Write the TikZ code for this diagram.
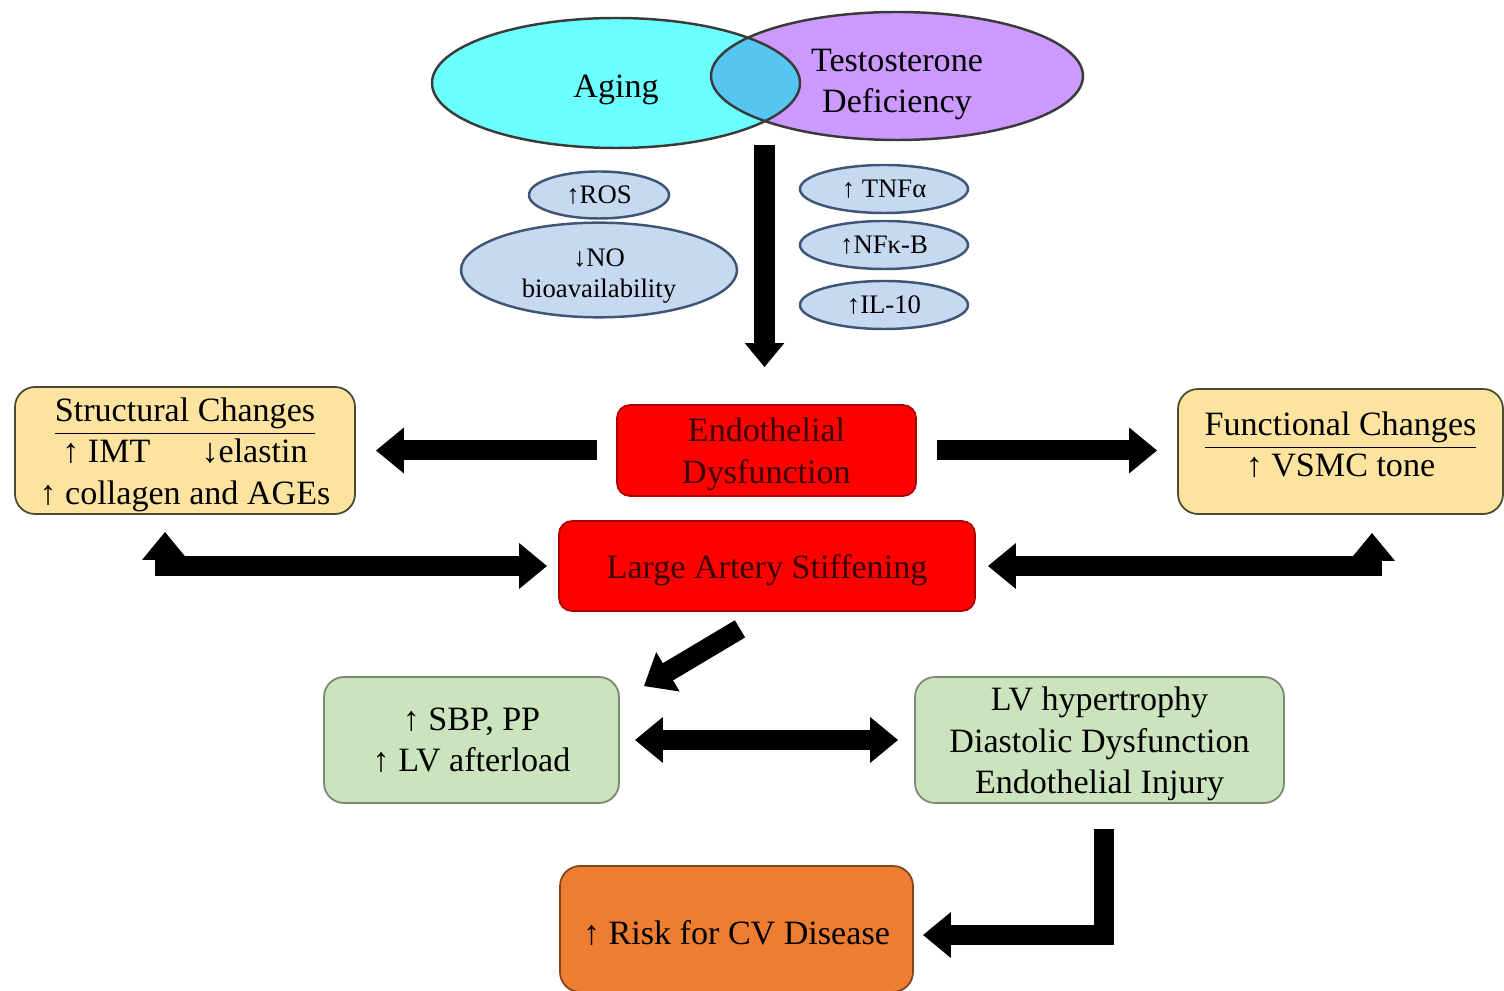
\documentclass[tikz,border=0pt]{standalone}
\usepackage{fontspec}
\setmainfont{Liberation Serif}
\usetikzlibrary{arrows.meta,shapes.geometric}

\definecolor{agecyan}{HTML}{6CFFFF}
\definecolor{tdlav}{HTML}{CC99FF}
\definecolor{vennmix}{HTML}{55C6F2}
\definecolor{venline}{HTML}{3A3A3A}
\definecolor{medfill}{HTML}{C6D9F1}
\definecolor{medline}{HTML}{3F5575}
\definecolor{redfill}{HTML}{FF0000}
\definecolor{redline}{HTML}{B00000}
\definecolor{redtext}{HTML}{3A0000}
\definecolor{goldfill}{HTML}{FCE4A0}
\definecolor{greenfill}{HTML}{CBE4BD}
\definecolor{orangefill}{HTML}{ED7D31}
\definecolor{boxline}{HTML}{4A4A30}

% tall zero-width strut for the first line of a label
\newcommand{\firstline}{\rule{0pt}{9pt}}

\tikzset{
  txt/.style={font=\fontsize{9.7pt}{11.8pt}\selectfont, align=center, text=black,
    execute at begin node={\firstline}},
  smalltxt/.style={font=\fontsize{7.6pt}{8.9pt}\selectfont, align=center, text=black},
  venn/.style={ellipse, txt, inner sep=0pt},
  medellipse/.style={ellipse, smalltxt, fill=medfill, draw=medline, line width=0.7pt, inner sep=0pt},
  box/.style={txt, draw=boxline, line width=0.5pt, rounded corners=0.2cm, inner sep=0pt},
  redbox/.style={box, fill=redfill, draw=redline, text=redtext, rounded corners=0.13cm},
  goldbox/.style={box, fill=goldfill},
  greenbox/.style={box, fill=greenfill, draw=greenfill!60!black},
  orangebox/.style={box, fill=orangefill, draw=orangefill!55!black},
  bigarrow/.style={line width=0.2cm, -{Triangle[length=0.28cm,width=0.44cm]}},
  twoway/.style={line width=0.2cm, {Triangle[length=0.28cm,width=0.44cm]}-{Triangle[length=0.28cm,width=0.44cm]}},
  elbow/.style={line join=miter}
}

\begin{document}
\begin{tikzpicture}
\useasboundingbox (0,0) rectangle (15.04,-9.91);

% ---- Venn of the two causes ----
\node[venn, fill=agecyan, minimum width=3.68cm, minimum height=1.30cm] (aging) at (6.16,-0.83) {};
\node[venn, fill=tdlav, minimum width=3.72cm, minimum height=1.28cm] (td) at (8.97,-0.76) {};
\begin{scope}
  \clip (aging.center) ellipse [x radius=1.84cm, y radius=0.65cm];
  \fill[vennmix] (td.center) ellipse [x radius=1.86cm, y radius=0.64cm];
\end{scope}
\draw[venline, line width=0.7pt] (aging.center) ellipse [x radius=1.84cm, y radius=0.65cm];
\draw[venline, line width=0.7pt] (td.center) ellipse [x radius=1.86cm, y radius=0.64cm];
\node[txt] at (6.16,-0.85) {Aging};
\node[txt] at (8.97,-0.80) {\firstline Testosterone\\Deficiency};

% ---- mediators ----
\node[medellipse, minimum width=1.40cm, minimum height=0.47cm] (ros) at (5.99,-1.95) {↑ROS};
\node[medellipse, minimum width=2.76cm, minimum height=0.70cm] (no) at (5.99,-2.70) {\rule{0pt}{8.5pt}↓NO\\bioavailability};
\node[medellipse, minimum width=1.68cm, minimum height=0.48cm] (tnf) at (8.84,-1.89) {↑ TNFα};
\node[medellipse, minimum width=1.68cm, minimum height=0.48cm] (nfkb) at (8.84,-2.45) {↑NFκ-B};
\node[medellipse, minimum width=1.68cm, minimum height=0.48cm] (il) at (8.84,-3.05) {↑IL-10};

% ---- central boxes ----
\node[redbox, minimum width=2.99cm, minimum height=0.91cm] (ed) at (7.665,-4.505) {\firstline Endothelial\\Dysfunction};
\node[redbox, minimum width=4.16cm, minimum height=0.90cm] (las) at (7.67,-5.66) {Large Artery Stiffening};

% ---- structural / functional changes ----
\node[goldbox, minimum width=3.40cm, minimum height=1.27cm] (sc) at (1.85,-4.505)
  {\firstline\underline{Structural Changes}\\↑ IMT\hspace{1.5em}↓elastin\\↑ collagen and AGEs};
\node[goldbox, minimum width=3.25cm, minimum height=1.25cm] (fc) at (13.405,-4.515)
  {\firstline\underline{Functional Changes}\\↑ VSMC tone\\[-5.4pt]};

% ---- haemodynamic consequences ----
\node[greenbox, minimum width=2.95cm, minimum height=1.26cm] (sbp) at (4.715,-7.40) {↑ SBP, PP\\↑ LV afterload};
\node[greenbox, minimum width=3.69cm, minimum height=1.26cm] (lvh) at (10.995,-7.40)
  {\firstline LV hypertrophy\\Diastolic Dysfunction\\Endothelial Injury};
\node[orangebox, minimum width=3.53cm, minimum height=1.26cm] (cv) at (7.365,-9.29) {↑ Risk for CV Disease};

% ---- connectors ----
\coordinate (vennbase) at (7.645,-1.45);
\draw[line width=0.21cm, -{Triangle[length=0.24cm,width=0.38cm]}, shorten >=0.37cm]
  (vennbase) -- (vennbase |- ed.north);

\draw[bigarrow, shorten <=0.19cm, shorten >=0.20cm] (ed.west) -- (ed.west -| sc.east);
\draw[bigarrow, shorten <=0.20cm, shorten >=0.20cm] (ed.east) -- (ed.east -| fc.west);

\coordinate (leftbend) at (1.65,-5.70);
\coordinate (rightbend) at (13.72,-5.70);
\draw[twoway, elbow, shorten <=0.11cm, shorten >=0.17cm] (las.west) -| (sc.south -| leftbend);
\draw[twoway, elbow, shorten <=0.12cm, shorten >=0.18cm] (las.east) -| (fc.south -| rightbend);

\draw[bigarrow] ([xshift=-0.27cm,yshift=-0.17cm]las.south) -- ([xshift=0.24cm,yshift=-0.10cm]sbp.north east);

\draw[twoway, shorten <=0.15cm, shorten >=0.16cm] (sbp.east) -- (sbp.east -| lvh.west);

\draw[bigarrow, elbow, shorten <=0.25cm, shorten >=0.09cm] ([xshift=0.045cm]lvh.south) |- ([yshift=-0.06cm]cv.east);
\end{tikzpicture}
\end{document}
